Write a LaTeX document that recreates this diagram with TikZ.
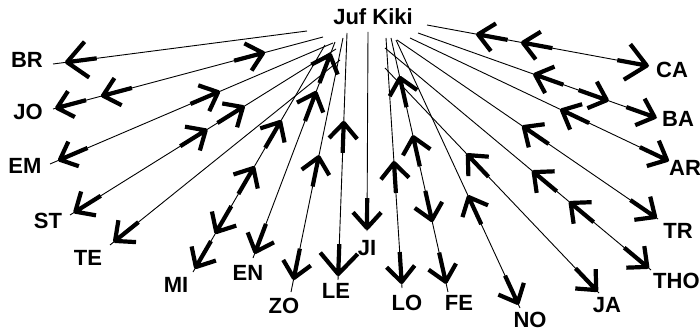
\documentclass[tikz,border=0pt]{standalone}
\usepackage{fontspec}
\setmainfont{Liberation Sans}
\usetikzlibrary{calc}
\tikzset{
  link/.style={draw=black, line width=0.9pt},
  arrowpen/.style={draw=black, line width=4.2pt, line join=round},
  lab/.style={inner sep=0pt, font=\fontsize{22}{26}\selectfont\bfseries, anchor=base},
}
% arrow head pointing towards #2 (child) at fraction #3 of the link #1 -> #2, arm length #4
\newcommand\sgTo[4]{%
  \coordinate (tipT) at ($(#1)!#3!(#2)$);
  \draw[arrowpen] ($(tipT)!30pt!(#1)$) -- (tipT) -- ($(tipT)!#4!42:(#1)$)
                  (tipT) -- ($(tipT)!#4!-42:(#1)$);}
% arrow head pointing back towards #1 (Juf Kiki)
\newcommand\sgBack[4]{%
  \coordinate (tipT) at ($(#1)!#3!(#2)$);
  \draw[arrowpen] ($(tipT)!30pt!(#2)$) -- (tipT) -- ($(tipT)!#4!42:(#2)$)
                  (tipT) -- ($(tipT)!#4!-42:(#2)$);}
\begin{document}
\begin{tikzpicture}[x=1pt,y=-1pt]
\useasboundingbox (0,0) rectangle (700,331);
\clip (0,0) rectangle (700,331);
% labels
\node[lab] (kiki) at (373,25) {Juf Kiki};
\node[lab] (BR) at (27,68) {BR};
\node[lab] (JO) at (28,120) {JO};
\node[lab] (EM) at (25,173) {EM};
\node[lab] (ST) at (48,228) {ST};
\node[lab] (TE) at (88,265) {TE};
\node[lab] (MI) at (176,292) {MI};
\node[lab] (EN) at (248,280) {EN};
\node[lab] (ZO) at (284,313) {ZO};
\node[lab] (LE) at (336,298) {LE};
\node[lab] (JI) at (367,255) {JI};
\node[lab] (LO) at (407,310) {LO};
\node[lab] (FE) at (459,310) {FE};
\node[lab] (NO) at (530,327.5) {NO};
\node[lab] (JA) at (607,312) {JA};
\node[lab, anchor=base west] (THO) at (653,288) {THO};
\node[lab] (TR) at (678,238) {TR};
\node[lab, anchor=base west] (AR) at (669,175) {AR};
\node[lab] (BA) at (678,127) {BA};
\node[lab] (CA) at (672,78) {CA};
% line ends
\coordinate (s-BR) at (307,31);  \coordinate (e-BR) at (53,64);
\coordinate (s-JO) at (323,37);  \coordinate (e-JO) at (53,109);
\coordinate (s-EM) at (333,43);  \coordinate (e-EM) at (50,164);
\coordinate (s-ST) at (336,49);  \coordinate (e-ST) at (70,215);
\coordinate (s-TE) at (340,60);  \coordinate (e-TE) at (110,245);
\coordinate (s-MI) at (325,45);  \coordinate (e-MI) at (193,272);
\coordinate (s-EN) at (335,42);  \coordinate (e-EN) at (253,258);
\coordinate (s-ZO) at (343,38);  \coordinate (e-ZO) at (291,292);
\coordinate (s-LE) at (347,33);  \coordinate (e-LE) at (338,280);
\coordinate (s-JI) at (368,32);  \coordinate (e-JI) at (367,231);
\coordinate (s-LO) at (386,38);  \coordinate (e-LO) at (402,288);
\coordinate (s-FE) at (391,38);  \coordinate (e-FE) at (448,292);
\coordinate (s-NO) at (396,40);  \coordinate (e-NO) at (520,308);
\coordinate (s-JA) at (385,68);  \coordinate (e-JA) at (599,293);
\coordinate (s-THO) at (385,48); \coordinate (e-THO) at (651,270);
\coordinate (s-TR) at (397,40);  \coordinate (e-TR) at (658,219);
\coordinate (s-AR) at (410,38);  \coordinate (e-AR) at (669,161);
\coordinate (s-BA) at (418,33);  \coordinate (e-BA) at (657,118);
\coordinate (s-CA) at (427,25);  \coordinate (e-CA) at (649,66);
% connectors
\foreach \k in {BR,JO,EM,ST,TE,MI,EN,ZO,LE,JI,LO,FE,NO,JA,THO,TR,AR,BA,CA}
  \draw[link] (s-\k) -- (e-\k);
% arrow heads
\sgTo{s-BR}{e-BR}{0.945}{27pt}
\sgBack{s-JO}{e-JO}{0.222}{21pt} \sgTo{s-JO}{e-JO}{0.815}{21pt} \sgTo{s-JO}{e-JO}{0.985}{20pt}
\sgBack{s-EM}{e-EM}{0.406}{21pt} \sgTo{s-EM}{e-EM}{0.965}{20pt}
\sgBack{s-ST}{e-ST}{0.35}{21pt} \sgBack{s-ST}{e-ST}{0.49}{21pt} \sgTo{s-ST}{e-ST}{0.98}{21pt}
\sgTo{s-TE}{e-TE}{0.978}{21pt}
\sgBack{s-MI}{e-MI}{0.339}{21pt} \sgBack{s-MI}{e-MI}{0.542}{21pt}
\sgTo{s-MI}{e-MI}{0.824}{21pt} \sgTo{s-MI}{e-MI}{0.978}{21pt}
\sgBack{s-EN}{e-EN}{0.06}{21pt} \sgBack{s-EN}{e-EN}{0.236}{21pt} \sgTo{s-EN}{e-EN}{0.972}{21pt}
\sgBack{s-ZO}{e-ZO}{0.469}{21pt} \sgTo{s-ZO}{e-ZO}{0.945}{21pt}
\sgBack{s-LE}{e-LE}{0.364}{21pt} \sgTo{s-LE}{e-LE}{0.976}{28pt}
\sgTo{s-JI}{e-JI}{0.985}{21pt}
\sgBack{s-LO}{e-LO}{0.5}{21pt} \sgTo{s-LO}{e-LO}{0.976}{21pt}
\sgBack{s-FE}{e-FE}{0.157}{21pt} \sgBack{s-FE}{e-FE}{0.39}{21pt}
\sgTo{s-FE}{e-FE}{0.717}{21pt} \sgTo{s-FE}{e-FE}{0.96}{21pt}
\sgBack{s-NO}{e-NO}{0.586}{21pt} \sgTo{s-NO}{e-NO}{0.981}{21pt}
\sgBack{s-JA}{e-JA}{0.387}{21pt} \sgTo{s-JA}{e-JA}{0.987}{21pt}
\sgBack{s-THO}{e-THO}{0.559}{21pt} \sgBack{s-THO}{e-THO}{0.698}{21pt} \sgTo{s-THO}{e-THO}{0.986}{21pt}
\sgBack{s-TR}{e-TR}{0.486}{21pt} \sgTo{s-TR}{e-TR}{0.989}{21pt}
\sgBack{s-AR}{e-AR}{0.587}{21pt} \sgTo{s-AR}{e-AR}{0.992}{21pt}
\sgBack{s-BA}{e-BA}{0.49}{21pt} \sgTo{s-BA}{e-BA}{0.79}{21pt} \sgTo{s-BA}{e-BA}{0.99}{21pt}
\sgBack{s-CA}{e-CA}{0.23}{21pt} \sgBack{s-CA}{e-CA}{0.432}{21pt} \sgTo{s-CA}{e-CA}{0.99}{27pt}
\end{tikzpicture}
\end{document}
